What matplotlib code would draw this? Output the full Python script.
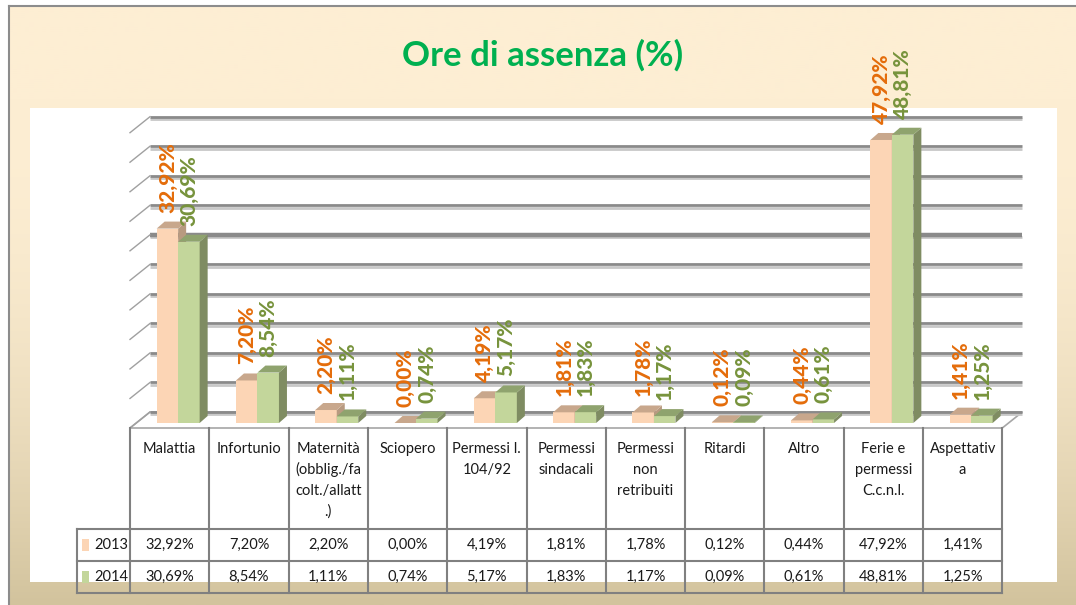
import numpy as np
import matplotlib
matplotlib.use("Agg")
import matplotlib.pyplot as plt
from matplotlib.patches import Polygon, Rectangle

# data
categories = ["Malattia", "Infortunio", "Maternità\n(obblig./fa\ncolt./allatt\n.)", "Sciopero",
              "Permessi l.\n104/92", "Permessi\nsindacali", "Permessi\nnon\nretribuiti", "Ritardi",
              "Altro", "Ferie e\npermessi\nC.c.n.l.", "Aspettativ\na"]
years = ["2013", "2014"]
vals_2013 = [32.92, 7.20, 2.20, 0.00, 4.19, 1.81, 1.78, 0.12, 0.44, 47.92, 1.41]
vals_2014 = [30.69, 8.54, 1.11, 0.74, 5.17, 1.83, 1.17, 0.09, 0.61, 48.81, 1.25]
grid_ticks = list(range(0, 55, 5))

# colours: front, top, side, label
col_2013 = ("#FCD5B5", "#C8A78C", "#B89A80", "#E46C0A")
col_2014 = ("#C3D69B", "#8FA36E", "#7F8C62", "#77933C")

plt.rcParams['font.family'] = ['Lato', 'DejaVu Sans']

W, H = 1076, 605
X0, CW = 130, 79.3      # table left edge (px) and column width (px)
Y0, PPU = 428, 5.906    # front floor line (px) and px per percent


def dx(p):
    return (p - X0) / CW - 0.5


def dy(p):
    return (Y0 - p) / PPU


fig = plt.figure(figsize=(W / 100, H / 100), dpi=100)

# background: frame, gradient, white panel, title
bg = fig.add_axes([0, 0, 1, 1])
yy = np.linspace(0, 1, 300)[:, None]
t = np.clip((yy * (H - 6) + 6 - 100) / 505, 0, 1) ** 2
cream = np.array([253, 238, 211]) / 255
tan = np.array([210, 195, 157]) / 255
grad = (cream[None, None, :] * (1 - t[..., None]) + tan[None, None, :] * t[..., None])
bg.imshow(grad, extent=(9, W, H, 6), aspect='auto', interpolation='bilinear')
bg.plot([9, 9], [H, 6], color="#8C8C8C", lw=1.5)
bg.plot([9, W], [6, 6], color="#8C8C8C", lw=1.5)
bg.add_patch(Rectangle((30, 108), 1027, 474, facecolor="white", edgecolor="none"))
bg.text(543, 66, "Ore di assenza (%)", color="#00B050", fontsize=25, fontweight="bold",
        ha="center", va="baseline")
bg.set_xlim(0, W)
bg.set_ylim(H, 0)
bg.axis('off')

# chart axes: x in category units, y in percent (front plane)
ax = fig.add_axes([0, 0, 1, 1])
ax.set_xlim(dx(0), dx(W))
ax.set_ylim(dy(H), dy(0))
ax.axis('off')

n = len(categories)
idx = np.arange(n)
DXB, DYB = 20 / CW, 16 / PPU   # back wall
DXF, DYF = 8.5 / CW, 5 / PPU   # bar front plane
DXD, DYD = 8 / CW, 7 / PPU     # bar depth
BW = 21.5 / CW

# floor
ax.add_patch(Polygon([(-0.5, 0), (n - 0.5, 0), (n - 0.5 + DXB, DYB), (-0.5 + DXB, DYB)],
                     closed=True, facecolor="white", edgecolor="#A6A6A6", lw=1.2, zorder=1))

# back wall gridlines and left wall stubs
for v in grid_ticks:
    ax.plot([-0.5 + DXB, n - 0.5 + DXB], [v + DYB - 2.4 / PPU] * 2, color="#C8C8C8", lw=2.0,
            zorder=1.5, solid_capstyle='butt')
    ax.plot([-0.5 + DXB, n - 0.5 + DXB], [v + DYB] * 2, color="#8A8A8A",
            lw=3.2 if v == 30 else 2.0, zorder=2, solid_capstyle='butt')
    ax.plot([-0.5, -0.5 + DXB], [v, v + DYB], color="#A0A0A0", lw=1.0, zorder=2)

# bars
for s, (vals, cols) in enumerate([(vals_2013, col_2013), (vals_2014, col_2014)]):
    front, top, side, lab = cols
    xc = idx + DXF + (s - 0.5) * BW
    z = 3 + s
    ax.bar(xc, vals, width=BW, bottom=DYF, color=front, edgecolor="none", zorder=z)
    for x, v in zip(xc, vals):
        xl, xr = x - BW / 2, x + BW / 2
        b, h = DYF, DYF + v
        ax.add_patch(Polygon([(xr, b), (xr + DXD, b + DYD), (xr + DXD, h + DYD), (xr, h)],
                             closed=True, facecolor=side, edgecolor="none", zorder=z))
        ax.add_patch(Polygon([(xl, h), (xl + DXD, h + DYD), (xr + DXD, h + DYD), (xr, h)],
                             closed=True, facecolor=top, edgecolor="none", zorder=z))
        ax.text(x, h + 16 / PPU, f"{v:.2f}%".replace(".", ","), rotation=90, ha="center",
                va="bottom", color=lab, fontsize=15, fontweight="black", zorder=6)

# data table
lc, lw = "#808080", 1.5
x_leg = dx(77)
rows_px = [428, 529, 561, 593]
for k in range(n + 1):
    ax.plot([k - 0.5, k - 0.5], [dy(rows_px[0]), dy(rows_px[-1])], color=lc, lw=lw, zorder=2)
ax.plot([x_leg, x_leg], [dy(rows_px[1]), dy(rows_px[-1])], color=lc, lw=lw)
ax.plot([x_leg, n - 0.5], [dy(rows_px[1])] * 2, color=lc, lw=lw)
for r in rows_px[2:]:
    ax.plot([x_leg, n - 0.5], [dy(r)] * 2, color=lc, lw=lw)

for i, cat in enumerate(categories):
    for k, line in enumerate(cat.split("\n")):
        ax.text(i, dy(453 + 21 * k), line, ha="center", va="baseline", fontsize=10.5,
                color="#1A1A1A")

for r, (yr, vals, cols) in enumerate([("2013", vals_2013, col_2013), ("2014", vals_2014, col_2014)]):
    yc = (rows_px[r + 1] + rows_px[r + 2]) / 2
    ax.add_patch(Rectangle((dx(82), dy(yc + 6)), dx(89) - dx(82), dy(yc - 6) - dy(yc + 6),
                           facecolor=cols[0], edgecolor="none"))
    ax.text(dx(94), dy(yc), yr, ha="left", va="center", fontsize=10.5, color="#1A1A1A")
    for i, v in enumerate(vals):
        ax.text(i, dy(yc), f"{v:.2f}%".replace(".", ","), ha="center", va="center",
                fontsize=10.5, color="#1A1A1A")

fig.savefig("out.png", dpi=100)
